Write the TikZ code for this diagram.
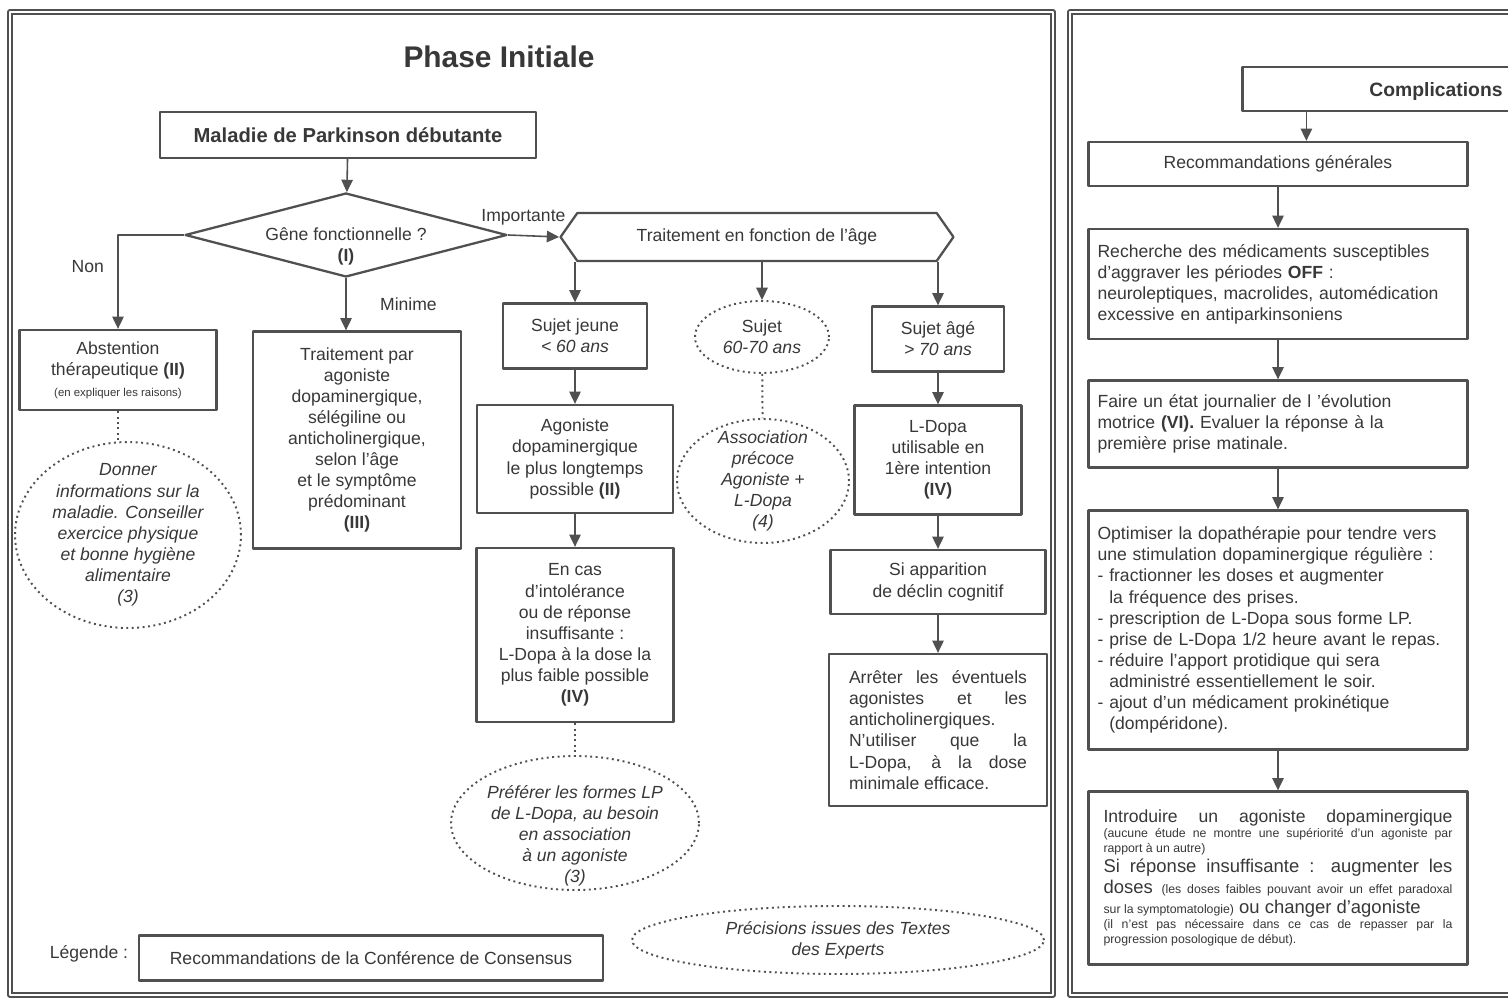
\documentclass[tikz,border=0pt]{standalone}
\usepackage{fontspec}
\setmainfont{Liberation Sans}
\usetikzlibrary{shapes.geometric,shapes.symbols,arrows.meta}
\definecolor{trait}{HTML}{505050}
\definecolor{encre}{HTML}{383838}
\hyphenpenalty=10000
\exhyphenpenalty=10000
\tolerance=9999
\parindent=0pt
\begin{document}
\begin{tikzpicture}[x=.02cm,y=-.02cm,join=round,line width=.9pt,text=encre,
	boite/.style={draw=trait,line width=1.3pt,align=center,inner sep=2pt},
	bloc/.style={boite,align=left,text width=7.22cm,inner xsep=.18cm,minimum height=#1},
	expert/.style={ellipse,draw=trait,dotted,line width=1.1pt,align=center,font=\itshape,inner xsep=-.1cm,inner ysep=-.2cm},
	fleche/.style={draw=trait,-{Triangle[length=7pt,width=6.5pt]}},
	pointille/.style={draw=trait,dotted,line width=1.1pt},
	cadre/.style={draw=trait,line width=1pt,double=white,double distance=1.4pt},
	dim/.style 2 args={minimum width=#1cm,minimum height=#2cm}]
	\useasboundingbox (0,0) rectangle (1508,999);
	\fill[white] (0,0) rectangle (1508,999);
	\clip (0,0) rectangle (1508,999);
	% cadres
	\draw[cadre] (10,12) rectangle (1053,995);
	\draw[cadre] (1070,12) rectangle (1560,995);
	% phase initiale
	\node[font=\bfseries\fontsize{17}{20}\selectfont] (titre) at (499,57) {Phase Initiale};
	\node[boite,dim={7.52}{.92},font=\bfseries\fontsize{11.5}{14}\selectfont] (maladie) at (348,135) {Maladie de Parkinson débutante};
	\node[diamond,draw=trait,line width=1.3pt,aspect=3.8,dim={6.44}{1.68},inner xsep=0pt,inner ysep=-.2cm,align=center] (gene) at (346,235) {\rule{0pt}{20pt}Gêne fonctionnelle ?\\\textbf{(I)}};
	\node[signal,signal to=east and west,signal pointer angle=110,draw=trait,line width=1.3pt,dim={7.86}{.96}] (hex) at (757,237) {Traitement en fonction de l’âge};
	\node[boite,dim={3.94}{1.6}] (abst) at (118,370) {Abstention\\thérapeutique \textbf{(II)}\\{\fontsize{6.5}{7}\selectfont(en expliquer les raisons)}};
	\node[boite,dim={4.16}{4.34}] (traitp) at (357,440) {Traitement par\\agoniste\\dopaminergique,\\sélégiline ou\\anticholinergique,\\selon l’âge\\et le symptôme\\prédominant\\\textbf{(III)}};
	\node[expert,dim={4.52}{3.72}] (donner) at (128,535) {Donner\\informations sur la\\maladie. Conseiller\\exercice physique\\et bonne hygiène\\alimentaire\\(3)};
	\node[boite,dim={2.88}{1.3}] (sjeune) at (575,336) {Sujet jeune\\\textit{< 60 ans}};
	\node[expert,dim={2.68}{1.44}] (s6070) at (762,337) {{\upshape Sujet}\\60-70 ans};
	\node[boite,dim={2.64}{1.3}] (sage) at (938,339) {Sujet âgé\\\textit{> 70 ans}};
	\node[boite,dim={3.92}{2.16}] (agon) at (575,459) {Agoniste\\dopaminergique\\le plus longtemps\\possible \textbf{(II)}};
	\node[expert,dim={3.44}{2.48}] (assoc) at (763,481) {Association\\précoce\\Agoniste +\\L-Dopa\\(4)};
	\node[boite,dim={3.34}{2.18}] (ldopa) at (938,460) {L-Dopa\\utilisable en\\1ère intention\\\textbf{(IV)}};
	\node[boite,dim={3.94}{3.48}] (encas) at (575,635) {En cas\\d’intolérance\\ou de réponse\\insuffisante :\\L-Dopa à la dose la\\plus faible possible\\\textbf{(IV)}};
	\node[expert,dim={4.96}{2.68},inner ysep=-.45cm] (prefer) at (575,823) {\rule{0pt}{22pt}Préférer les formes LP\\de L-Dopa, au besoin\\en association\\à un agoniste\\(3)};
	\node[boite,dim={4.3}{1.28}] (siapp) at (938,582) {Si apparition\\de déclin cognitif};
	\node[boite,align=justify,text width=3.56cm,inner xsep=.4cm,minimum height=3.04cm] (arret) at (938,730) {Arrêter les éventuels\linebreak agonistes et les\linebreak anticholinergiques.\par N'utiliser que la\linebreak L-Dopa, à la dose\linebreak minimale efficace.};
	% legende
	\node (legende) at (89,954) {Légende :};
	\node[boite,dim={9.28}{.9}] (legbox) at (371,958) {Recommandations de la Conférence de Consensus};
	\node[expert,dim={8.24}{1.36}] (precis) at (838,940) {Précisions issues des Textes\\des Experts};
	% complications
	\node[boite,dim={7.74}{.88},font=\bfseries\fontsize{11}{13}\selectfont] (compl) at (1436,89) {\rule{0pt}{11pt}Complications};
	\node[boite,dim={7.58}{.88}] (reco) at (1278,164) {Recommandations générales};
	\node[bloc=2.2cm] (rech) at (1278,284) {Recherche des médicaments susceptibles\\d’aggraver les périodes \textbf{OFF} :\\neuroleptiques, macrolides, automédication\\excessive en antiparkinsoniens};
	\node[bloc=1.74cm] (faire) at (1278,424) {Faire un état journalier de l ’évolution\\motrice \textbf{(VI).} Evaluer la réponse à la\\première prise matinale.};
	\node[bloc=4.78cm] (optim) at (1278,630) {Optimiser la dopathérapie pour tendre vers\\une stimulation dopaminergique régulière :\\- fractionner les doses et augmenter\\\phantom{- }la fréquence des prises.\\- prescription de L-Dopa sous forme LP.\\- prise de L-Dopa 1/2 heure avant le repas.\\- réduire l’apport protidique qui sera\\\phantom{- }administré essentiellement le soir.\\- ajout d’un médicament prokinétique\\\phantom{- }(dompéridone).};
	\node[boite,align=justify,text width=6.98cm,inner xsep=.3cm,minimum height=3.46cm] (intro) at (1278,878) {{\parfillskip=0pt Introduire un agoniste dopaminergique\par}{\fontsize{7}{8.5}\selectfont (aucune étude ne montre une supériorité d’un agoniste par\linebreak rapport à un autre)\par}{\fontsize{10.5}{11.5}\selectfont Si réponse insuffisante : augmenter les\linebreak doses {\fontsize{7}{8}\selectfont (les doses faibles pouvant avoir un effet paradoxal\linebreak sur la symptomatologie)} ou changer d’agoniste\par}{\fontsize{7}{8.5}\selectfont (il n’est pas nécessaire dans ce cas de repasser par la\linebreak progression posologique de début).\par}};
	% fleches
	\draw[fleche] (maladie) -- (gene);
	\draw[fleche] (gene.west) -| node[pos=.67,left=.15cm]{Non} (abst.north);
	\draw[fleche] (gene.south) -- node[right=.55cm]{Minime} (gene.south |- traitp.north);
	\draw[fleche] (gene.east) -- node[pos=.3,above=.08cm]{Importante} (hex.west);
	\foreach \cible in {sjeune,s6070,sage} \draw[fleche] (hex.south -| \cible.north) -- (\cible.north);
	\foreach \a/\b in {sjeune/agon,agon/encas,sage/ldopa,ldopa/siapp,siapp/arret} \draw[fleche] (\a) -- (\b);
	\draw[pointille] (abst.south) -- (abst.south |- donner.north);
	\foreach \a/\b in {s6070/assoc,encas/prefer} \draw[pointille] (\a) -- (\b);
	\draw[fleche] ([xshift=1.3cm]compl.south west) -- ([xshift=1.3cm]compl.south west |- reco.north);
	\foreach \a/\b in {reco/rech,rech/faire,faire/optim,optim/intro} \draw[fleche] (\a) -- (\b);
\end{tikzpicture}
\end{document}
